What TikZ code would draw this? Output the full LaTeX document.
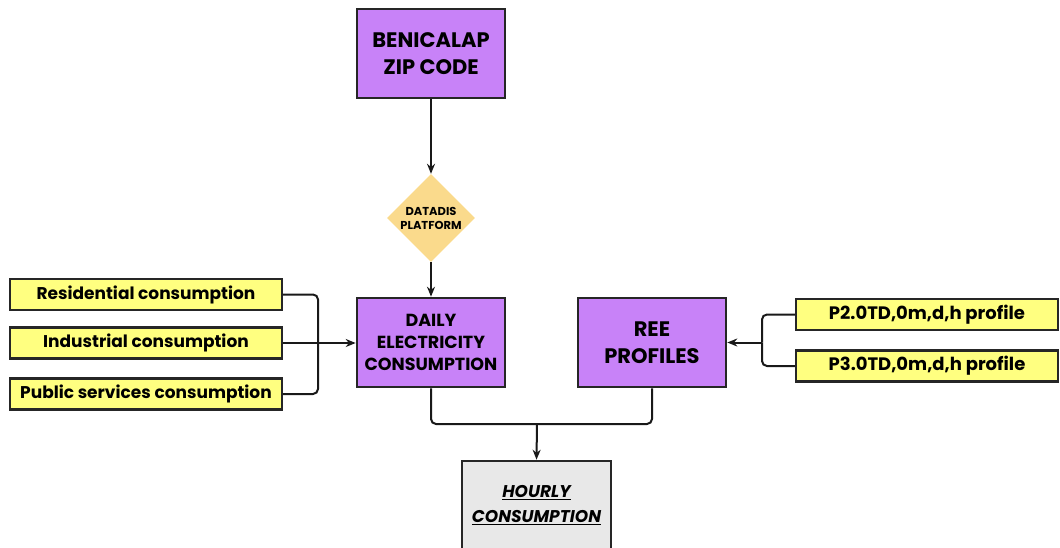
\documentclass[tikz,border=0pt]{standalone}
\usepackage{fontspec}
\setmainfont{Poppins}
\usetikzlibrary{shapes.geometric,arrows.meta}

\definecolor{stepviolet}{RGB}{200,130,248}
\definecolor{inyellow}{RGB}{255,255,128}
\definecolor{platgold}{RGB}{250,218,140}
\definecolor{outgray}{RGB}{232,232,232}

\tikzset{
  mainbox/.style={draw=black!85, line width=2.6pt, fill=stepviolet, minimum width=148pt,
    minimum height=89pt, align=center, font=\bfseries\fontsize{21}{27}\selectfont},
  inbox/.style={draw=black!85, line width=2.2pt, fill=inyellow, minimum height=31pt,
    inner sep=0pt, font=\bfseries\fontsize{17}{20}\selectfont},
  platform/.style={diamond, fill=platgold, minimum width=88pt, minimum height=88pt,
    inner sep=0pt, align=center, font=\bfseries\fontsize{11.5}{14}\selectfont},
  link/.style={line width=2pt, draw=black!90, rounded corners=5pt},
  tip/.style={-{Stealth[length=10pt,width=8pt]}}
}

\begin{document}
\begin{tikzpicture}[x=1pt,y=-1pt]
\useasboundingbox (0,0) rectangle (1060,548);

% Sources
\node[mainbox] (zip) at (431,53.5) {BENICALAP\\ZIP CODE};
\node[platform] (datadis) at (431,218) {DATADIS\\PLATFORM};
\node[mainbox, font=\bfseries\fontsize{17.5}{22}\selectfont] (daily) at (431,342.5)
  {DAILY\\ELECTRICITY\\CONSUMPTION};
\node[mainbox] (ree) at (652,342.5) {REE\\PROFILES};
\node[mainbox, fill=outgray, minimum width=149pt, font=\bfseries\fontsize{17}{25}\selectfont]
  (hourly) at (536.5,505.5) {\itshape\underline{HOURLY}\\\itshape\underline{CONSUMPTION}};

% Consumo por sector
\node[inbox, minimum width=272pt] (res) at (146,294.5) {Residential consumption};
\node[inbox, minimum width=272pt] (ind) at (146,343) {Industrial consumption};
\node[inbox, minimum width=272pt] (pub) at (146,394) {Public services consumption};

% Perfiles
\node[inbox, minimum width=262pt, font=\bfseries\fontsize{18}{20}\selectfont] (p2) at (927,314.5) {P2.0TD,0m,d,h profile};
\node[inbox, minimum width=262pt, font=\bfseries\fontsize{18}{20}\selectfont] (p3) at (927,366) {P3.0TD,0m,d,h profile};

\coordinate (lbus) at (318,343);
\coordinate (rbus) at (762,342.5);
\coordinate (join) at (537,424);

% Conexiones
\draw[link,tip] (zip) -- (datadis);
\draw[link,tip] (datadis) -- (daily);
\draw[link] (res.east) -| (lbus);
\draw[link] (pub.east) -| (lbus);
\draw[link,tip] (ind.east) -- (ind.east -| daily.west);
\draw[link] (p2.west) -| (rbus);
\draw[link] (p3.west) -| (rbus);
\draw[link,tip] (rbus) -- (ree.east);
\draw[link] (daily.south) |- (join);
\draw[link] (ree.south) |- (join);
\draw[link,tip] (join) -- (hourly.north);
\end{tikzpicture}
\end{document}
